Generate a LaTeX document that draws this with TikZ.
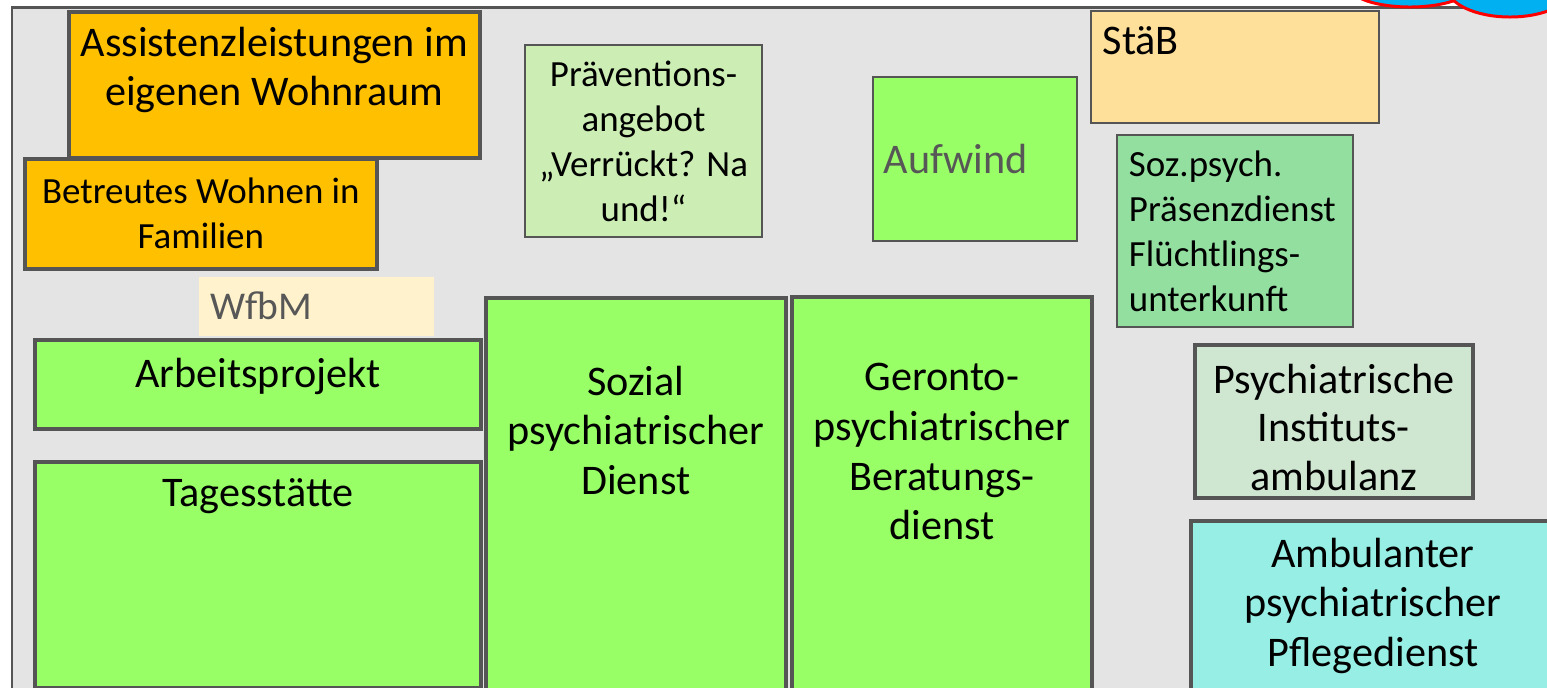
\documentclass[tikz,border=0pt]{standalone}
\usepackage{fontspec}
\setmainfont{Carlito}
\usepackage{tikz}
\usetikzlibrary{positioning}

\definecolor{rahmen}{HTML}{555555}
\definecolor{hintergrund}{HTML}{E4E4E4}
\definecolor{orange}{HTML}{FFC000}
\definecolor{creme}{HTML}{FFF2CC}
\definecolor{staebfarbe}{HTML}{FFE09B}
\definecolor{gruen}{HTML}{99FF66}
\definecolor{hellgruen}{HTML}{CCEEB4}
\definecolor{mittelgruen}{HTML}{93DFA0}
\definecolor{graugruen}{HTML}{CFE6D1}
\definecolor{tuerkis}{HTML}{96EEE4}
\definecolor{himmel}{HTML}{00B0F0}
\definecolor{textgrau}{HTML}{575757}

\begin{document}
\begin{tikzpicture}[x=0.01cm, y=-0.01cm,
  feld/.style={draw=rahmen, anchor=north west, inner sep=0pt},
  dick/.style={feld, line width=1pt},
  duenn/.style={feld, line width=0.55pt},
  gross/.style={font=\fontsize{12}{14.2}\selectfont, inner sep=0pt, align=center},
  mittel/.style={font=\fontsize{11.2}{13.8}\selectfont, inner sep=0pt, align=center},
  klein/.style={font=\fontsize{10.5}{12.8}\selectfont, inner sep=0pt, align=center}]

\useasboundingbox (0,0) rectangle (1547,687);
\clip (0,0) rectangle (1547,687);

\draw[draw=rahmen, fill=hintergrund, line width=0.85pt] (12,7) rectangle (1600,720);

\node[dick, fill=orange, minimum width=4.11cm, minimum height=1.46cm] (assist) at (67,10) {};
\node[gross, below=0.16cm of assist.north] (assisttxt) {Assistenzleistungen im\\eigenen Wohnraum};
\node[dick, klein, fill=orange, minimum width=3.52cm, minimum height=1.10cm] (betreut) at (23,157) {Betreutes Wohnen in\\Familien};

\node[feld, draw=none, fill=creme, mittel, text=textgrau, minimum width=2.35cm, minimum height=0.59cm, text width=2.11cm, inner xsep=0.12cm, align=left] (wfbm) at (198,276) {WfbM};

\node[dick, fill=gruen, minimum width=4.46cm, minimum height=0.89cm] (arbeit) at (33,338) {};
\node[gross, below=0.19cm of arbeit.north] (arbeittxt) {Arbeitsprojekt};
\node[dick, fill=gruen, minimum width=4.46cm, minimum height=2.26cm] (tages) at (33,460) {};
\node[gross, below=0.18cm of tages.north] (tagestxt) {Tagesstätte};

\node[duenn, klein, fill=hellgruen, minimum width=2.37cm, minimum height=1.92cm] (praev) at (524,44) {Präventions-\\angebot\\„Verrückt? Na\\und!“};

\node[dick, fill=gruen, minimum width=3.00cm, minimum height=4.20cm] (sozial) at (484,296) {};
\node[gross, below=0.69cm of sozial.north] (sozialtxt) {Sozial\\psychiatrischer\\Dienst};
\node[dick, fill=gruen, minimum width=3.00cm, minimum height=4.20cm] (geronto) at (790,295) {};
\node[gross, below=0.67cm of geronto.north] (gerontotxt) {Geronto-\\psychiatrischer\\Beratungs-\\dienst};

\node[duenn, fill=gruen, text=textgrau, font=\fontsize{12}{14.2}\selectfont, minimum width=2.04cm, minimum height=1.64cm, text width=1.82cm, inner xsep=0.11cm, align=left] (aufwind) at (872,76) {Aufwind};

\node[duenn, fill=staebfarbe, minimum width=2.88cm, minimum height=1.12cm] (staeb) at (1090,10) {};
\node[gross, below right=0.16cm and 0.12cm of staeb.north west] (staebtxt) {StäB};
\node[duenn, klein, fill=mittelgruen, minimum width=2.36cm, minimum height=1.92cm, text width=2.12cm, inner xsep=0.12cm, align=left] (praesenz) at (1116,134) {Soz.psych.\\Präsenzdienst\\Flüchtlings-\\unterkunft};

\node[dick, fill=graugruen, minimum width=2.78cm, minimum height=1.53cm] (pia) at (1193,343) {};
\node[gross, font=\fontsize{12}{13.9}\selectfont, below=0.20cm of pia.north] (piatxt) {Psychiatrische\\Instituts-\\ambulanz};
\node[dick, fill=tuerkis, minimum width=3.64cm, minimum height=2.00cm] (app) at (1189,519) {};
\node[gross, below=0.18cm of app.north] (apptxt) {Ambulanter\\psychiatrischer\\Pflegedienst};

\draw[draw=red, fill=himmel, line width=0.85pt] (1410,-13) ellipse [x radius=60, y radius=20];
\draw[draw=red, fill=himmel, line width=0.85pt] (1510,-13) ellipse [x radius=63, y radius=30];

\end{tikzpicture}
\end{document}
